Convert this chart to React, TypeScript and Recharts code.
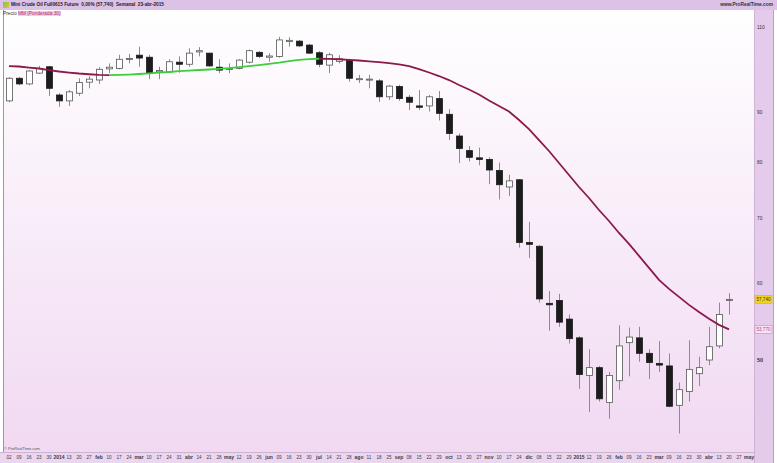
import { ComposedChart, Bar, Line, XAxis, YAxis, ReferenceLine } from "recharts";

// weekly axis, 02-dic-2013 .. 04-may-2015
const dayLabels = [
  "02", "09", "16", "23", "30",
  "2014", "13", "20", "27", "feb", "10", "17", "24", "mar", "10", "17", "24", "31",
  "abr", "14", "21", "28", "may", "12", "19", "26", "jun", "09", "16", "23", "30",
  "jul", "14", "21", "28", "ago", "11", "18", "25", "sep", "08", "15", "22", "29",
  "oct", "13", "20", "27", "nov", "10", "17", "24", "dic", "08", "15", "22", "29",
  "2015", "12", "19", "26", "feb", "09", "16", "23", "mar", "09", "16", "23", "30",
  "abr", "13", "20", "27", "may",
];

const opens = [
  92.5, 97.6, 96.3, 98.8, 100.3, 93.8, 92.5, 94.2, 96.7, 97.2,
  99.8, 99.9, 102.1, 103.1, 102.6, 99.1, 99.1, 101.4, 100.9, 103.9,
  103.6, 100.2, 99.7, 99.9, 101.4, 103.8, 102.6, 102.8, 106.5, 106.6,
  105.6, 103.7, 100.7, 101.6, 101.8, 97.4, 97.2, 97.0, 93.4, 95.7,
  93.3, 91.4, 91.4, 93.0, 89.6, 85.1, 82.2, 80.8, 80.5, 78.4,
  75.4, 76.7, 66.1, 65.5, 57.2, 57.6, 55.1, 52.7, 48.2, 49.1,
  45.2, 47.6, 52.1, 52.7, 50.8, 49.6, 49.3, 44.9, 46.4, 48.4,
  50.0, 51.7, 57.65,
];
const highs = [
  97.9, 97.9, 99.5, 100.5, 100.5, 94.2, 94.9, 97.6, 98.1, 100.2,
  101.1, 103.2, 103.4, 105.2, 103.2, 100.3, 102.1, 102.8, 104.8, 105.1,
  103.7, 102.1, 101.1, 102.1, 104.5, 104.1, 103.6, 107.7, 107.6, 106.9,
  105.9, 104.1, 103.7, 103.1, 102.2, 98.4, 98.4, 97.4, 96.1, 96.1,
  93.8, 94.9, 93.8, 94.7, 90.7, 85.6, 83.1, 82.8, 80.9, 79.9,
  77.6, 76.8, 69.4, 65.7, 58.9, 58.5, 55.7, 52.9, 51.3, 49.3,
  48.6, 54.3, 54.0, 54.1, 51.3, 52.3, 50.8, 47.4, 52.4, 50.4,
  54.1, 57.3, 58.6,
];
const lows = [
  92.2, 96.0, 96.0, 98.6, 93.6, 91.2, 91.4, 93.6, 95.3, 96.3,
  98.8, 99.7, 101.1, 100.3, 97.4, 97.4, 98.8, 98.9, 100.3, 102.8,
  100.3, 98.8, 98.8, 99.7, 101.1, 102.4, 101.5, 102.5, 105.2, 105.1,
  103.4, 100.2, 98.8, 101.1, 96.8, 96.5, 95.3, 92.3, 92.7, 92.5,
  90.5, 90.5, 90.2, 88.3, 84.3, 79.8, 80.1, 79.4, 75.9, 73.2,
  73.8, 65.3, 63.7, 57.3, 53.6, 54.1, 52.0, 46.7, 44.2, 45.3,
  43.5, 46.6, 48.1, 49.8, 47.8, 48.6, 44.7, 42.0, 45.3, 47.0,
  49.4, 51.4, 55.7,
];
const closes = [
  97.6, 96.3, 99.3, 99.9, 95.3, 92.5, 94.5, 96.6, 97.4, 99.7,
  100.2, 102.1, 102.3, 102.4, 98.8, 99.4, 101.5, 100.9, 103.6, 104.2,
  100.5, 99.5, 99.9, 101.9, 104.2, 102.8, 102.9, 106.9, 106.8, 105.4,
  103.6, 100.9, 103.2, 102.2, 97.6, 97.5, 97.4, 93.4, 95.8, 93.0,
  92.2, 91.1, 93.4, 89.8, 85.6, 82.6, 80.9, 80.5, 78.5, 75.8,
  76.5, 66.1, 65.8, 57.8, 57.0, 54.7, 52.6, 48.3, 49.1, 45.6,
  48.2, 51.7, 52.8, 50.8, 49.7, 49.4, 44.8, 46.6, 48.9, 49.1,
  51.6, 55.7, 57.74,
];
// MM ponderada 30
const maValues = [
  100.47, 100.36, 100.12, 99.89, 99.53, 99.18, 98.94, 98.71, 98.54, 98.40,
  98.35, 98.40, 98.47, 98.59, 98.75, 98.94, 99.06, 99.25, 99.41, 99.53,
  99.65, 99.81, 100.0, 100.24, 100.47, 100.71, 101.0, 101.31, 101.68, 101.94,
  102.14, 102.23, 102.21, 102.11, 101.97, 101.8, 101.61, 101.4, 101.16, 100.88,
  100.48, 99.76, 98.94, 98.12, 97.19, 96.04, 95.02, 93.9, 92.58, 91.37,
  90.19, 88.39, 86.52, 84.29, 82.12, 79.81, 77.57, 75.39, 73.45, 71.39,
  69.55, 67.6, 65.86, 64.02, 62.22, 60.47, 59.2, 58.08, 56.99, 56.05,
  55.13, 54.35, 53.77,
];
const yTicks = [50, 60, 70, 80, 90, 110];
const lastPrice = 57.74;
const lastMa = 53.77;

const rows = dayLabels.map((lab, i) => ({
  idx: i,
  lab,
  range: i < closes.length ? [lows[i], highs[i]] : null,
  o: opens[i], h: highs[i], l: lows[i], c: closes[i],
  maUp: null as number | null,
  maDown: null as number | null,
}));
for (let i = 0; i < maValues.length - 1; i++) {
  const key = maValues[i + 1] > maValues[i] ? "maUp" : "maDown";
  rows[i][key] = maValues[i];
  rows[i + 1][key] = maValues[i + 1];
}

const FONT = "'Liberation Sans', Arial, sans-serif";

const Candle = (props: any) => {
  const { x, y, width, height, payload } = props;
  if (!payload || payload.c == null) return null;
  const { o, h, l, c } = payload;
  const top = Math.min(y, y + height);
  const hh = Math.abs(height);
  const lh = Math.log(h), ll = Math.log(l);
  const span = lh - ll || 1;
  const py = (v: number) => top + ((lh - Math.log(v)) / span) * hh;
  const cx = Math.round(x + width / 2);
  const up = c >= o;
  const bTop = py(Math.max(o, c));
  const bH = Math.max(py(Math.min(o, c)) - bTop, 1);
  return (
    <g>
      <line x1={cx + 0.5} x2={cx + 0.5} y1={top} y2={top + hh} stroke="#8c8c8c" strokeWidth={1} />
      <rect x={cx - 2.5} y={bTop} width={6} height={bH}
        fill={up ? "#ffffff" : "#1c1c1c"} stroke={up ? "#555" : "#1c1c1c"} strokeWidth={0.8} />
    </g>
  );
};

const XTick = ({ x, y, payload }: any) => {
  const t = dayLabels[payload.value];
  const bold = /^[a-z]/.test(t) || t.length === 4;
  return (
    <text x={x} y={y + 5} textAnchor="middle" dominantBaseline="central"
      fontSize={bold ? 5 : 4.6} fontWeight={bold ? 700 : 400} fill="#3a3a3a" fontFamily={FONT}>
      {t}
    </text>
  );
};

const YTick = ({ x, y, payload }: any) => (
  <text x={x + 3} y={y} dominantBaseline="central" fontSize={payload.value === 50 ? 5.5 : 4.8}
    fontWeight={payload.value === 50 ? 700 : 400} fill="#333" fontFamily={FONT}>
    {payload.value}
  </text>
);

const Tag = (bg: string, fg: string, border: string, text: string) => (p: any) => {
  const vb = p.viewBox;
  const x0 = vb.x + vb.width + 1;
  return (
    <g>
      <rect x={x0} y={vb.y - 4} width={17} height={8} fill={bg} stroke={border} strokeWidth={0.6} />
      <text x={x0 + 8.5} y={vb.y} textAnchor="middle" dominantBaseline="central"
        fontSize={4.6} fill={fg} fontFamily={FONT}>{text}</text>
    </g>
  );
};

export default function App() {
  return (
    <div style={{ position: "relative", width: 777, height: 463, background: "#fff", overflow: "hidden", fontFamily: FONT }}>
      <style>{"body{margin:0}"}</style>
      {/* header bar */}
      <div style={{ position: "absolute", left: 0, top: 0, width: 777, height: 10, background: "#dcc2e7" }} />
      <div style={{ position: "absolute", left: 3, top: 2, width: 6, height: 6, background: "linear-gradient(135deg,#7fc24a,#e6c23c)" }} />
      <div style={{ position: "absolute", left: 11, top: 1, fontSize: 4.7, fontWeight: 700, color: "#222", whiteSpace: "pre", lineHeight: "8px" }}>
        {"Mini Crude Oil Full0615 Future  0,00% (57,740)  Semanal  23-abr-2015"}
      </div>
      <div style={{ position: "absolute", right: 4, top: 1, fontSize: 4.8, fontWeight: 700, color: "#333", lineHeight: "8px" }}>
        www.ProRealTime.com
      </div>
      {/* plot background */}
      <div style={{ position: "absolute", left: 3, top: 10, width: 751, height: 442, background: "linear-gradient(#ffffff, #f1d9f2)", borderLeft: "1px solid #9a9a9a", boxSizing: "border-box" }} />
      {/* price axis panel */}
      <div style={{ position: "absolute", left: 754, top: 10, width: 20, height: 453, background: "#e4cbeb", borderLeft: "1px solid #cdb3d6", borderRight: "1px solid #b9a1c4", boxSizing: "border-box" }} />
      {/* date axis strip */}
      <div style={{ position: "absolute", left: 0, top: 452, width: 754, height: 11, background: "#ecd6ef", borderTop: "1px solid #cbb3d2", boxSizing: "border-box" }} />
      <div style={{ position: "absolute", left: 0, top: 0 }}>
        <ComposedChart width={777} height={463} data={rows} margin={{ top: 11, right: 0, bottom: 0, left: 4 }}>
          <XAxis dataKey="idx" type="category" interval={0} height={11} tick={<XTick />}
            tickLine={false} axisLine={false} tickSize={0} tickMargin={0} />
          <YAxis orientation="right" width={23} scale="log" domain={[40.19, 114.5]} allowDataOverflow
            ticks={yTicks} tick={<YTick />} tickLine={false} axisLine={false} tickSize={0} tickMargin={0} />
          <Bar dataKey="range" isAnimationActive={false} shape={<Candle />} />
          <Line dataKey="maDown" stroke="#8b1a4c" strokeWidth={1.8} dot={false} type="linear" isAnimationActive={false} connectNulls={false} />
          <Line dataKey="maUp" stroke="#3ccf3c" strokeWidth={1.8} dot={false} type="linear" isAnimationActive={false} connectNulls={false} />
          <ReferenceLine y={lastPrice} stroke="none" label={Tag("#f2d21e", "#333", "#d9b800", "57,740")} />
          <ReferenceLine y={lastMa} stroke="none" label={Tag("#f6e4f3", "#c0407e", "#d48ab8", "53,770")} />
        </ComposedChart>
      </div>
      {/* legend */}
      <div style={{ position: "absolute", left: 3, top: 11, fontSize: 4.8, lineHeight: "6px", color: "#333", whiteSpace: "pre" }}>
        {"Precio "}
        <span style={{ color: "#b0306e", background: "#f6c9e6" }}>MM (Ponderada 30)</span>
      </div>
      <div style={{ position: "absolute", left: 4, top: 446, fontSize: 4, color: "#555" }}>© ProRealTime.com</div>
    </div>
  );
}
